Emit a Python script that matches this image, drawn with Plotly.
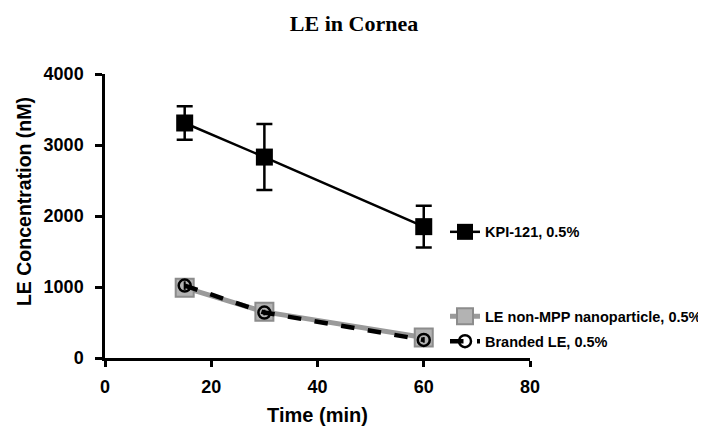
import plotly.graph_objects as go

time_min = [15, 30, 60]

kpi_mean = [3310, 2830, 1850]
kpi_err = [235, 465, 295]

nonmpp_mean = [990, 650, 290]
nonmpp_err = [40, 30, 40]

branded_mean = [1020, 640, 255]
branded_err = [60, 40, 40]

names = ["KPI-121, 0.5%", "LE non-MPP nanoparticle, 0.5%", "Branded LE, 0.5%"]

sans = "Liberation Sans"
font_tick = dict(family=sans, size=18, color="black", weight="bold")

fig = go.Figure()

fig.add_trace(go.Scatter(
    x=time_min, y=nonmpp_mean, name=names[1], mode="lines+markers",
    line=dict(color="#9a9a9a", width=5),
    marker=dict(symbol="square", size=18, color="#b3b3b3", line=dict(color="#8c8c8c", width=2)),
    error_y=dict(type="data", array=nonmpp_err, color="#8c8c8c", thickness=2, width=6),
    legend="legend2", showlegend=True,
))
fig.add_trace(go.Scatter(
    x=time_min, y=branded_mean, name=names[2], mode="lines+markers",
    line=dict(color="black", width=4.5, dash="dash"),
    marker=dict(symbol="circle-open", size=12, color="black", line=dict(color="black", width=2.5)),
    error_y=dict(type="data", array=branded_err, color="black", thickness=2, width=0),
    legend="legend3", showlegend=True,
))
fig.add_trace(go.Scatter(
    x=time_min, y=kpi_mean, name=names[0], mode="lines+markers",
    line=dict(color="black", width=2.5),
    marker=dict(symbol="square", size=17, color="black"),
    error_y=dict(type="data", array=kpi_err, color="black", thickness=2.5, width=8),
    legend="legend", showlegend=True,
))

leg_common = dict(bgcolor="rgba(0,0,0,0)", font=dict(family=sans, size=14.5, color="black", weight="bold"),
                  xanchor="left", yanchor="middle", itemwidth=30, visible=True)

fig.update_layout(
    width=730, height=427,
    showlegend=True,
    paper_bgcolor="white", plot_bgcolor="white",
    margin=dict(l=97, r=208, t=66, b=75),
    title=dict(text="LE in Cornea", x=0.474, xanchor="center", y=0.965, yanchor="middle",
               font=dict(family="Liberation Serif", size=22, color="black", weight="bold")),
    xaxis=dict(range=[0, 80], dtick=20, showgrid=False, zeroline=False,
               showline=True, linecolor="black", linewidth=2.5,
               ticks="outside", ticklen=6, tickwidth=2.5, tickcolor="black",
               tickfont=font_tick, ticklabelstandoff=5,
               title=dict(text="Time (min)", font=dict(family=sans, size=20, color="black", weight="bold"), standoff=12)),
    yaxis=dict(range=[0, 4000], dtick=1000, showgrid=False, zeroline=False,
               showline=True, linecolor="black", linewidth=2.5,
               ticks="outside", ticklen=7, tickwidth=2.5, tickcolor="black",
               tickfont=font_tick, ticklabelstandoff=8),
    annotations=[dict(text="LE Concentration (nM)", xref="paper", yref="paper",
                      x=-0.19, y=0.55, xanchor="center", yanchor="middle",
                      textangle=-90, showarrow=False,
                      font=dict(family=sans, size=19.5, color="black", weight="bold"))],
    legend=dict(x=0.8, y=0.444, **leg_common),
    legend2=dict(x=0.8, y=0.147, **leg_common),
    legend3=dict(x=0.8, y=0.059, **leg_common),
)

fig.write_html("out.html")
